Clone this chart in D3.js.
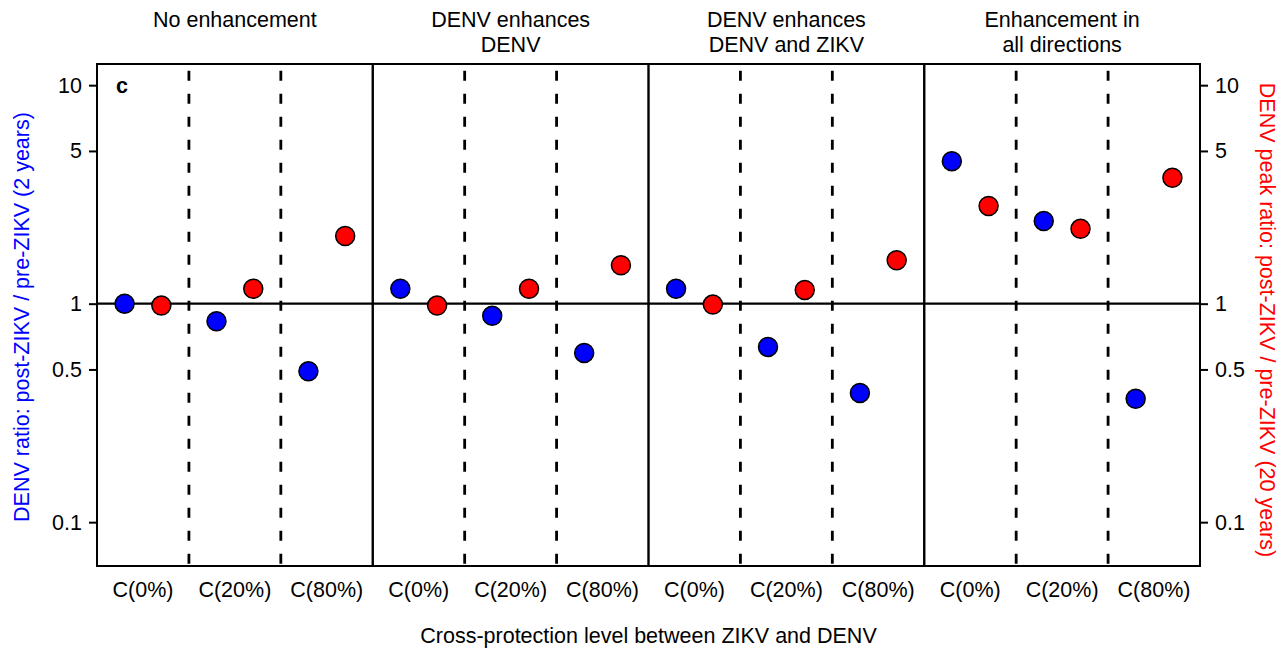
<!DOCTYPE html>
<html>
<head>
<meta charset="utf-8">
<script src="https://cdn.jsdelivr.net/npm/d3@7"></script>
<style>
  body { margin: 0; background: #fff; }
  text { font-family: "Liberation Sans", Arial, Helvetica, sans-serif; }
</style>
</head>
<body>
<div id="chart"></div>
<script>
// Data
const scenarios = [["No enhancement"], ["DENV enhances", "DENV"], ["DENV enhances", "DENV and ZIKV"], ["Enhancement in", "all directions"]];
const levels = ["C(0%)", "C(20%)", "C(80%)"];
// blue: DENV ratio post/pre ZIKV (2 years), one row per scenario
const ratio2y = [
  [1.0, 0.83, 0.49],
  [1.17, 0.88, 0.595],
  [1.17, 0.634, 0.39],
  [4.49, 2.39, 0.367]
];
// red: DENV peak ratio (20 years)
const peak20y = [
  [0.98, 1.17, 2.04],
  [0.98, 1.17, 1.50],
  [0.99, 1.155, 1.58],
  [2.80, 2.20, 3.77]
];
const yTicks = [0.1, 0.5, 1, 5, 10];

const width = 1288, height = 651;
const margin = { top: 64, right: 88, bottom: 85, left: 97 };
const innerW = width - margin.left - margin.right;
const innerH = height - margin.top - margin.bottom;
const fs = "21.5px";

const svg = d3.select("#chart").append("svg")
    .attr("width", width)
    .attr("height", height);

const g = svg.append("g")
    .attr("transform", "translate(" + margin.left + "," + margin.top + ")");

// Scales
const xGroup = d3.scaleBand()
    .domain(d3.range(scenarios.length))
    .range([0, innerW]);

const xLevel = d3.scaleBand()
    .domain(levels)
    .range([0, xGroup.bandwidth()]);

const y = d3.scaleLog()
    .domain([0.063, 12.5])
    .range([innerH, 0]);

// flat point list
const points = [];
scenarios.forEach((s, i) => {
  levels.forEach((l, j) => {
    points.push({ group: i, level: l, value: ratio2y[i][j], color: "#0000ff", off: -0.2 });
    points.push({ group: i, level: l, value: peak20y[i][j], color: "#ff0000", off: 0.2 });
  });
});

// dashed dividers between levels
scenarios.forEach((s, i) => {
  levels.slice(1).forEach(l => {
    const xx = xGroup(i) + xLevel(l);
    g.append("line")
        .attr("x1", xx).attr("x2", xx)
        .attr("y1", 0).attr("y2", innerH)
        .attr("stroke", "#000")
        .attr("stroke-width", 2.8)
        .attr("stroke-dasharray", "10,13")
        .attr("stroke-dashoffset", 16.3);
  });
});

// solid dividers between scenarios
d3.range(1, scenarios.length).forEach(i => {
  g.append("line")
      .attr("x1", xGroup(i)).attr("x2", xGroup(i))
      .attr("y1", 0).attr("y2", innerH)
      .attr("stroke", "#000")
      .attr("stroke-width", 2.4);
});

// reference line at 1
g.append("line")
    .attr("x1", 0).attr("x2", innerW)
    .attr("y1", y(1)).attr("y2", y(1))
    .attr("stroke", "#000")
    .attr("stroke-width", 2.4);

// frame
g.append("rect")
    .attr("width", innerW).attr("height", innerH)
    .attr("fill", "none")
    .attr("stroke", "#000")
    .attr("stroke-width", 2);

// axes
const fmt = d => String(d);
const yLeft = g.append("g")
    .call(d3.axisLeft(y).tickValues(yTicks).tickFormat(fmt).tickSize(8).tickPadding(7));
const yRight = g.append("g")
    .attr("transform", "translate(" + innerW + ",0)")
    .call(d3.axisRight(y).tickValues(yTicks).tickFormat(fmt).tickSize(8).tickPadding(7));
[yLeft, yRight].forEach(ax => {
  ax.select(".domain").remove();
  ax.selectAll(".tick line").attr("stroke-width", 2);
  ax.selectAll(".tick text").style("font-size", fs).attr("fill", "#000");
});

// points
g.selectAll("circle.pt")
    .data(points)
    .enter().append("circle")
    .attr("class", "pt")
    .attr("cx", d => xGroup(d.group) + xLevel(d.level) + xLevel.bandwidth() * (0.5 + d.off))
    .attr("cy", d => y(d.value))
    .attr("r", 9.5)
    .attr("fill", d => d.color)
    .attr("stroke", "#000")
    .attr("stroke-width", 1.5);

// level labels under each panel
scenarios.forEach((s, i) => {
  levels.forEach(l => {
    g.append("text")
        .attr("x", xGroup(i) + xLevel(l) + xLevel.bandwidth() / 2)
        .attr("y", innerH + 31)
        .attr("text-anchor", "middle")
        .style("font-size", fs)
        .text(l);
  });
});

// scenario titles
scenarios.forEach((s, i) => {
  s.forEach((line, k) => {
    g.append("text")
        .attr("x", xGroup(i) + xGroup.bandwidth() / 2)
        .attr("y", -37.5 + k * 25.5)
        .attr("text-anchor", "middle")
        .style("font-size", fs)
        .text(line);
  });
});

// panel letter
g.append("text")
    .attr("x", 19).attr("y", 29)
    .style("font-size", fs)
    .style("font-weight", "bold")
    .text("c");

// axis titles
g.append("text")
    .attr("x", innerW / 2)
    .attr("y", innerH + 77)
    .attr("text-anchor", "middle")
    .style("font-size", fs)
    .text("Cross-protection level between ZIKV and DENV");

g.append("text")
    .attr("transform", "translate(" + (-68) + "," + (innerH / 2 + 2) + ")rotate(-90)")
    .attr("text-anchor", "middle")
    .attr("fill", "#0000ff")
    .style("font-size", fs)
    .text("DENV ratio: post-ZIKV / pre-ZIKV (2 years)");

g.append("text")
    .attr("transform", "translate(" + (innerW + 60) + "," + (innerH / 2 + 5) + ")rotate(90)")
    .attr("text-anchor", "middle")
    .attr("fill", "#ff0000")
    .style("font-size", fs)
    .text("DENV peak ratio: post-ZIKV / pre-ZIKV (20 years)");
</script>
</body>
</html>
